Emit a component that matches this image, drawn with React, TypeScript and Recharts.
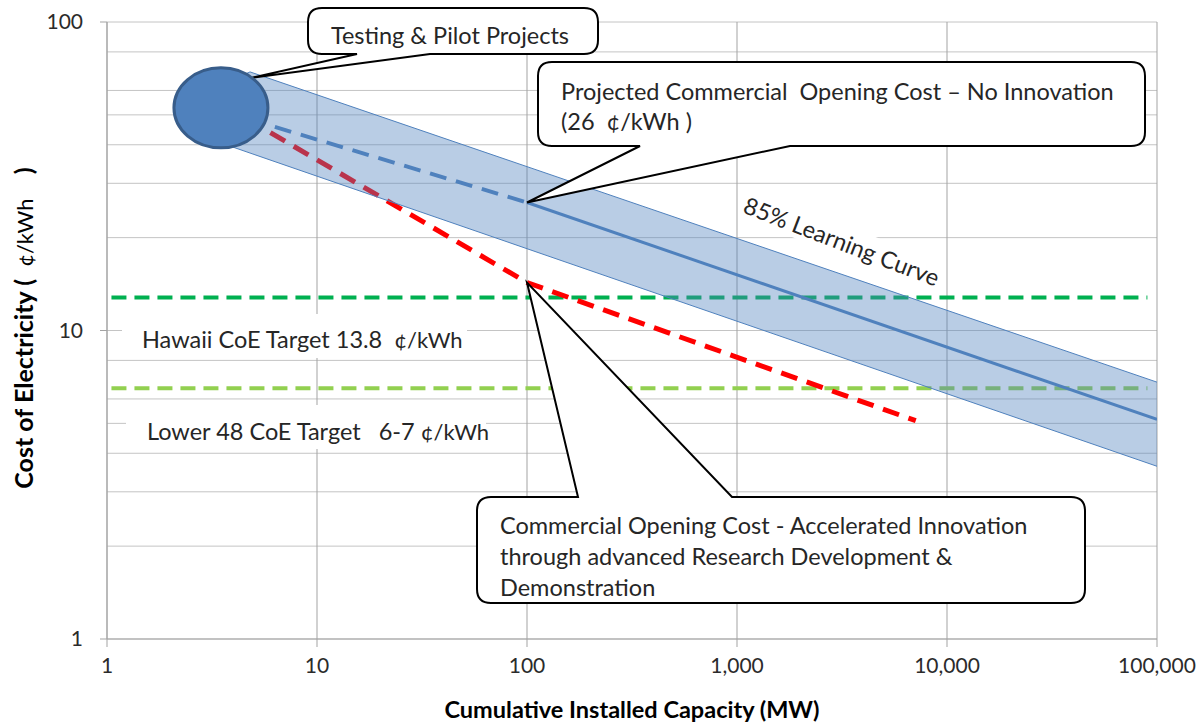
import React from 'react';
import { ComposedChart, Line, Area, Scatter, XAxis, YAxis, CartesianGrid, ReferenceDot } from 'recharts';

// axes
const xTicks = [1, 10, 100, 1000, 10000, 100000];
const yTicks = [1, 10, 100];
const yGridValues = [1, 2, 3, 4, 5, 6, 7, 8, 9, 10, 20, 30, 40, 50, 60, 70, 80, 90, 100];

// 85% learning curve band (low / high edge), left end tucked behind the bubble
const bandX = [3.94, 4.8, 100000];
const bandLow = [39.4, 37.6, 3.63];
const bandHigh = [64.9, 68.9, 6.8];

// learning curve, solid from 100 MW
const curveX = [100, 100000];
const curveY = [26, 5.15];

// projected (no innovation), dashed part
const projectedX = [6.3, 100];
const projectedY = [45.7, 26];

// accelerated innovation path
const accelX = [6.0, 100, 7100];
const accelY = [43.8, 14.3, 5.1];

// CoE targets
const targetX = [1.05, 90000];
const hawaiiY = [12.8, 12.8];
const lower48Y = [6.5, 6.5];

// testing & pilot projects bubble
const pilotX = [3.45];
const pilotY = [52.7];

const zip = (xs: number[], ys: number[]) => xs.map((x, i) => ({ x, y: ys[i] }));
const bandData = bandX.map((x, i) => ({ x, low: bandLow[i], high: bandHigh[i] }));

const FONT = 'Lato, "Noto Sans", sans-serif';
const BLUE = '#4f81bd';
const TXT = 23.5;

type CalloutDef = {
  x0: number; y0: number; x1: number; y1: number;
  b1: number; b2: number; side: 'top' | 'bottom';
  lines: React.ReactNode[]; tx: number; ty: number; anchor: 'start' | 'middle'; gap: number;
};

function calloutPath(c: CalloutDef, px: number, py: number) {
  const r = 14;
  const { x0, y0, x1, y1, b1, b2 } = c;
  if (c.side === 'bottom') {
    return `M${x0 + r},${y0} H${x1 - r} Q${x1},${y0} ${x1},${y0 + r} V${y1 - r} Q${x1},${y1} ${x1 - r},${y1} H${b2} L${px},${py} L${b1},${y1} H${x0 + r} Q${x0},${y1} ${x0},${y1 - r} V${y0 + r} Q${x0},${y0} ${x0 + r},${y0} Z`;
  }
  return `M${x0 + r},${y0} H${b1} L${px},${py} L${b2},${y0} H${x1 - r} Q${x1},${y0} ${x1},${y0 + r} V${y1 - r} Q${x1},${y1} ${x1 - r},${y1} H${x0 + r} Q${x0},${y1} ${x0},${y1 - r} V${y0 + r} Q${x0},${y0} ${x0 + r},${y0} Z`;
}

const unit = (t: string, size = TXT) => (
  <tspan fontSize={size} fontWeight="normal">{t}</tspan>
);

// callout anchors (data) and boxes
const pilotTip = { x: 4.9, y: 66 };
const projectedTip = { x: 100, y: 26 };
const accelTip = { x: 100, y: 14.3 };

const pilotBox: CalloutDef = {
  x0: 308, y0: 8, x1: 598, y1: 54, b1: 357, b2: 430, side: 'bottom',
  lines: ['Testing & Pilot Projects'], tx: 450, ty: 44, anchor: 'middle', gap: 30,
};
const projectedBox: CalloutDef = {
  x0: 538, y0: 62, x1: 1145, y1: 146, b1: 640, b2: 790, side: 'bottom',
  lines: ['Projected Commercial  Opening Cost \u2013 No Innovation', <>(26  {unit('¢/kWh')} )</>],
  tx: 561, ty: 100, anchor: 'start', gap: 30,
};
const accelBox: CalloutDef = {
  x0: 477, y0: 497, x1: 1085, y1: 603, b1: 578, b2: 732, side: 'top',
  lines: ['Commercial Opening Cost - Accelerated Innovation', 'through advanced Research Development &', 'Demonstration'],
  tx: 500, ty: 534, anchor: 'start', gap: 31,
};

function Callout(c: CalloutDef) {
  return (props: any) => (
    <g>
      <path d={calloutPath(c, props.cx, props.cy)} fill="#fff" stroke="#000" strokeWidth={2} />
      {c.lines.map((l, i) => (
        <text key={i} x={c.tx} y={c.ty + i * c.gap} textAnchor={c.anchor} fontFamily={FONT} fontSize={TXT} fill="#262626" style={{ whiteSpace: 'pre' }}>{l}</text>
      ))}
    </g>
  );
}

const PilotEllipse = (props: any) => (
  <ellipse cx={props.cx + 1} cy={props.cy} rx={47} ry={40} fill={BLUE} stroke="#385d8a" strokeWidth={3} />
);

export default function App() {
  return (
    <div style={{ position: 'relative', width: 1202, height: 723, background: '#fff' }}>
      <style>{'body{margin:0}'}</style>
      <ComposedChart width={1202} height={723} margin={{ top: 22, right: 45, bottom: 34, left: 47 }}>
        <CartesianGrid horizontal vertical={false} horizontalValues={yGridValues} stroke="#c4c4c4" />
        <CartesianGrid horizontal={false} vertical verticalValues={xTicks} stroke="#a3a3a3" />
        <XAxis
          type="number" dataKey="x" scale="log" domain={[1, 100000]} ticks={xTicks} allowDataOverflow
          height={50} tickSize={8} tickMargin={11} stroke="#a3a3a3"
          tick={{ fill: '#2b2b2b', fontSize: 21, fontFamily: FONT }}
          tickFormatter={(v: number) => v.toLocaleString('en-US')}
        />
        <YAxis
          type="number" dataKey="y" scale="log" domain={[1, 100]} ticks={yTicks} allowDataOverflow
          width={60} tickSize={7} tickMargin={17} stroke="#a3a3a3"
          tick={{ fill: '#2b2b2b', fontSize: 21, fontFamily: FONT }}
        />
        <Line data={zip(targetX, hawaiiY)} dataKey="y" stroke="#00b050" strokeWidth={4} strokeDasharray="15 8" dot={false} isAnimationActive={false} zIndex={90} />
        <Line data={zip(targetX, lower48Y)} dataKey="y" stroke="#92d050" strokeWidth={4} strokeDasharray="15 8" dot={false} isAnimationActive={false} zIndex={90} />
        <Line data={zip(accelX, accelY)} dataKey="y" stroke="#ff0000" strokeWidth={5} strokeDasharray="17 10" dot={false} isAnimationActive={false} zIndex={90} />
        <Area data={bandData} dataKey={(d: any) => [d.low, d.high]} fill={BLUE} fillOpacity={0.4} stroke={BLUE} strokeWidth={1} isAnimationActive={false} zIndex={100} />
        <Line data={zip(curveX, curveY)} dataKey="y" stroke={BLUE} strokeWidth={3} dot={false} isAnimationActive={false} zIndex={400} />
        <Line data={zip(projectedX, projectedY)} dataKey="y" stroke={BLUE} strokeWidth={4} strokeDasharray="17 10" dot={false} isAnimationActive={false} zIndex={400} />
        <ReferenceDot x={pilotTip.x} y={pilotTip.y} shape={Callout(pilotBox)} zIndex={1500} />
        <ReferenceDot x={projectedTip.x} y={projectedTip.y} shape={Callout(projectedBox)} zIndex={1500} />
        <ReferenceDot x={accelTip.x} y={accelTip.y} shape={Callout(accelBox)} zIndex={1500} />
        <Scatter data={zip(pilotX, pilotY)} dataKey="y" shape={PilotEllipse} isAnimationActive={false} zIndex={1600} />
      </ComposedChart>
      <svg width={1202} height={723} style={{ position: 'absolute', left: 0, top: 0, pointerEvents: 'none' }}>
        <rect x={122} y={314} width={345} height={44} fill="#fff" />
        <text x={142} y={348} fontFamily={FONT} fontSize={TXT} fill="#262626" style={{ whiteSpace: 'pre' }}>
          {'Hawaii CoE Target 13.8  '}{unit('¢/kWh', 22)}
        </text>
        <rect x={126} y={405} width={360} height={44} fill="#fff" />
        <text x={147} y={440} fontFamily={FONT} fontSize={TXT} fill="#262626" style={{ whiteSpace: 'pre' }}>
          {'Lower 48 CoE Target   6-7 '}{unit('¢/kWh', 22)}
        </text>
        <g transform="translate(841,243) rotate(21)">
          <rect x={-102} y={-18} width={204} height={30} fill="#fff" />
          <text x={0} y={7} textAnchor="middle" fontFamily={FONT} fontSize={TXT} fill="#262626">85% Learning Curve</text>
        </g>
        <text x={632} y={718} textAnchor="middle" fontFamily={FONT} fontSize={23.5} fontWeight="bold" fill="#000">
          Cumulative Installed Capacity (MW)
        </text>
        <text transform="translate(33,328) rotate(-90)" textAnchor="middle" fontFamily={FONT} fontSize={25} fontWeight="bold" fill="#000" style={{ whiteSpace: 'pre' }}>
          {'Cost of Electricity (  '}{unit('¢/kWh', 22)}{'    )'}
        </text>
      </svg>
    </div>
  );
}
